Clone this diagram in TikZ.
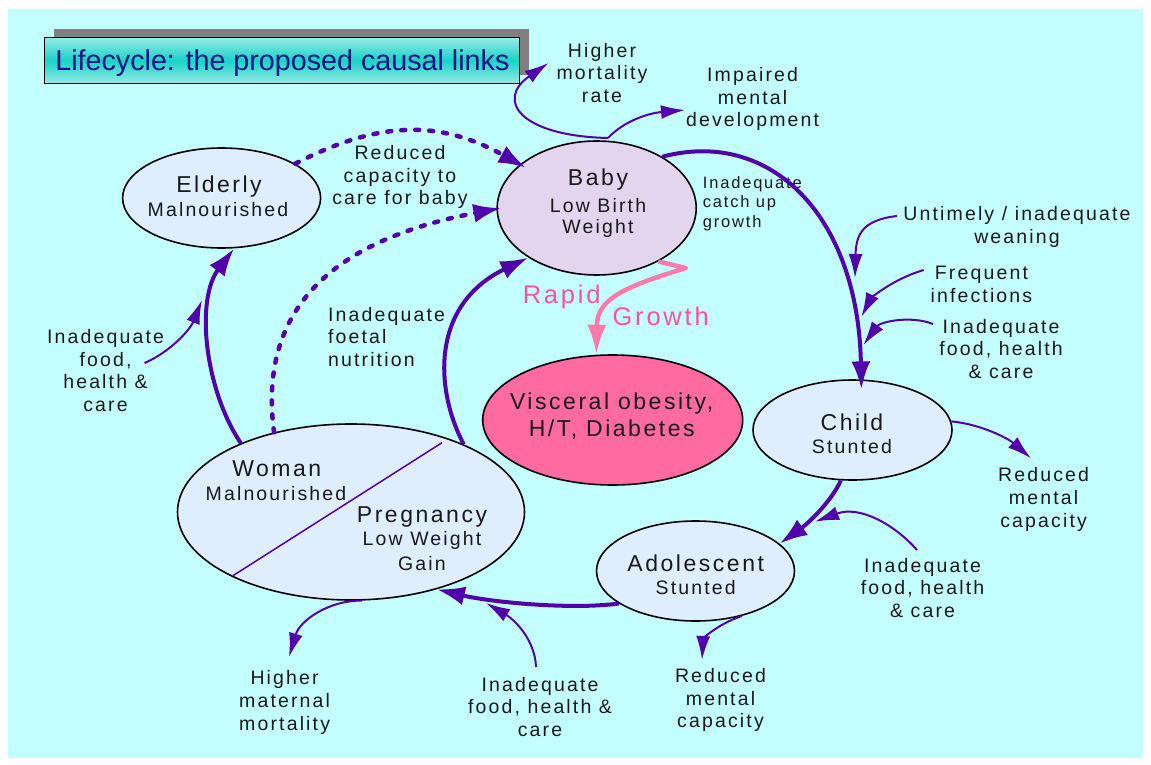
\documentclass[tikz,border=0pt]{standalone}
\usepackage{fontspec}
\setmainfont{Liberation Sans}[LetterSpace=11]
\newfontfamily\titlefont{Liberation Sans}
\usetikzlibrary{arrows.meta,shapes.geometric}
\definecolor{bgcyan}{RGB}{196,255,255}
\definecolor{arrowpurple}{RGB}{82,0,170}
\definecolor{ellfill}{RGB}{222,238,255}
\definecolor{babyfill}{RGB}{227,213,238}
\definecolor{viscfill}{RGB}{255,106,160}
\definecolor{pinkline}{RGB}{255,122,172}
\definecolor{pinktext}{RGB}{255,80,160}
\definecolor{txt}{RGB}{25,25,25}
\definecolor{titleblue}{RGB}{20,20,130}
\definecolor{titleteal}{RGB}{24,210,200}
\definecolor{titlelight}{RGB}{150,235,230}
\definecolor{shadowgray}{RGB}{128,128,128}
\begin{document}
\begin{tikzpicture}[x=1pt,y=-1pt,
  ell/.style={ellipse, draw=black, line width=1.6pt, fill=ellfill, inner sep=0pt},
  big/.style={font=\fontsize{23}{27}\selectfont, text=txt, inner sep=0pt},
  sub/.style={font=\fontsize{19.5}{23}\selectfont, text=txt, inner sep=0pt},
  side/.style={font=\fontsize{19.5}{22.7}\selectfont, text=txt, align=center, inner sep=0pt},
  small/.style={font=\fontsize{16.5}{19.5}\selectfont, text=txt, align=left, inner sep=0pt},
  pinklbl/.style={font=\fontsize{25.5}{28}\selectfont, text=pinktext, inner sep=0pt},
  thickarrow/.style={draw=arrowpurple, line width=4pt, -{Latex[length=28pt,width=19pt]}},
  thinarrow/.style={draw=arrowpurple, line width=2pt, -{Latex[length=24pt,width=14pt]}},
  dotarrow/.style={draw=arrowpurple, line width=4.5pt, line cap=round, dash pattern=on 4pt off 10pt, -{Latex[length=28pt,width=19pt]}},
]
\useasboundingbox (0,0) rectangle (1151,765);
\fill[white] (0,0) rectangle (1151,765);
\fill[bgcyan] (8,9) rectangle (1143,758);

% title
\fill[shadowgray] (54,29) rectangle (529,75);
\node[draw=black, line width=1pt, top color=titlelight, bottom color=titlelight, middle color=titleteal,
  minimum width=475pt, minimum height=46pt, anchor=north west, inner sep=0pt, text depth=0pt,
  font=\titlefont\fontsize{28.7}{30}\selectfont, text=titleblue] (title) at (44.4,37) {Lifecycle: the proposed causal links};

% ellipses
\node[ell, minimum width=198pt, minimum height=100pt] (elderly) at (221.6,198) {};
\node[ell, fill=babyfill, minimum width=199pt, minimum height=134pt] (baby) at (596.7,208) {};
\node[ell, fill=viscfill, minimum width=260pt, minimum height=130pt] (visc) at (612.7,420) {};
\node[ell, minimum width=199pt, minimum height=100pt] (child) at (852.5,430) {};
\node[ell, minimum width=198pt, minimum height=100pt] (adol) at (695.5,571) {};
\node[ell, minimum width=347pt, minimum height=176pt] (woman) at (351,512) {};
\draw[arrowpurple, line width=1.5pt] (442,442.7) -- (232.9,575.7);

% ellipse texts
\node[big] (elderlyA) at (219,187) {Elderly};
\node[sub] (elderlyB) at (218,210) {Malnourished};
\node[big] (babyA) at (598,180) {Baby};
\node[sub] (babyB) at (598,206) {Low Birth};
\node[sub] (babyC) at (598,228) {Weight};
\node[big] (childA) at (852,422.7) {Child};
\node[sub] (childB) at (852,447) {Stunted};
\node[big] (adolA) at (695.7,563.3) {Adolescent};
\node[sub] (adolB) at (695.7,588) {Stunted};
\node[big] (womanA) at (276.8,468.3) {Woman};
\node[sub] (womanB) at (276,493.3) {Malnourished};
\node[big] (pregA) at (422,516.7) {Pregnancy};
\node[sub] (pregB) at (422,540.7) {Low Weight};
\node[sub] (pregC) at (422,563.3) {Gain};
\node[big, align=center, font=\fontsize{23}{27}\selectfont] (viscA) at (611.7,416.5) {Visceral obesity,\\H/T, Diabetes};

% side labels
\node[side] (hmr) at (602,73) {Higher\\mortality\\rate};
\node[side] (imd) at (752.6,99) {Impaired\\mental\\development};
\node[side] (rcc) at (400,177) {Reduced\\capacity to\\care for baby};
\node[small, anchor=west] (icg) at (702.7,203.5) {Inadequate\\catch up\\growth};
\node[side] (utw) at (1017,227) {Untimely / inadequate\\weaning};
\node[side] (fi) at (981.4,284.5) {Frequent\\infections};
\node[side] (cfood) at (1001,349) {Inadequate\\food, health\\\& care};
\node[side] (crm) at (1043.6,499.5) {Reduced\\mental\\capacity};
\node[side] (afood) at (922.6,588) {Inadequate\\food, health\\\& care};
\node[side] (arm) at (720.5,700) {Reduced\\mental\\capacity};
\node[side] (bfood) at (540,707) {Inadequate\\food, health \&\\care};
\node[side] (hmm) at (284.6,702.5) {Higher\\maternal\\mortality};
\node[side] (lfood) at (105.5,370.5) {Inadequate\\food,\\health \&\\care};
\node[side, align=left, anchor=west] (ifn) at (327.9,337) {Inadequate\\foetal\\nutrition};
\node[pinklbl] (rapid) at (561.7,296.7) {Rapid};
\node[pinklbl] (growth) at (660.7,316.7) {Growth};

% free ends
\coordinate (utwS) at (897,216); \coordinate (utwE) at (855,278);
\coordinate (fiS) at (923.7,270); \coordinate (fiE) at (861.5,316.7);
\coordinate (cfS) at (933,324); \coordinate (cfE) at (863.4,345);
\coordinate (crmE) at (1031,458.3);
\coordinate (afS) at (917,550); \coordinate (afE) at (815,521.7);
\coordinate (armE) at (702,660);
\coordinate (bfS) at (536,667); \coordinate (bfE) at (486,603);
\coordinate (hmmE) at (289,657);
\coordinate (lfS) at (144.6,363); \coordinate (lfE) at (202,300);
\coordinate (hmrE) at (548.5,63); \coordinate (imdE) at (685,110);
\coordinate (babyTop) at (608,138);
\coordinate (pinkTurn) at (686,268);

% dotted arrows
\draw[dotarrow] (elderly.25) .. controls (380,120) and (440,120) .. ([shift={(6pt,-4pt)}]baby.150);
\draw[dotarrow] (woman.134) .. controls (255,290) and (360,235) .. ([xshift=5pt]baby.180);

% thick arrows
\draw[thickarrow] (woman.148) .. controls (205,390) and (195,300) .. (elderly.-76);
\draw[thickarrow] (woman.31) .. controls (435,390) and (430,305) .. (baby.216);
\draw[thickarrow] (baby.38) .. controls (770,128) and (858,215) .. ([yshift=-10pt]child.80);
\draw[thickarrow] (child.257) .. controls (832,500) and (810,522) .. (adol.18);
\draw[thickarrow] (adol.203) .. controls (570,610) and (490,602) .. (woman.-42);

% thin arrows
\draw[thinarrow] (babyTop) .. controls (520,136) and (495,100) .. (hmrE);
\draw[thinarrow] (babyTop) .. controls (625,120) and (650,113) .. (imdE);
\draw[thinarrow] (utwS) .. controls (862,220) and (856,235) .. (utwE);
\draw[thinarrow] (fiS) .. controls (890,280) and (870,300) .. (fiE);
\draw[thinarrow] (cfS) .. controls (910,315) and (880,322) .. (cfE);
\draw[thinarrow] (child.5) .. controls (985,425) and (1010,440) .. (crmE);
\draw[thinarrow] (afS) .. controls (895,525) and (860,505) .. (afE);
\draw[thinarrow] (adol.-44) .. controls (715,625) and (703,640) .. (armE);
\draw[thinarrow] (bfS) .. controls (535,640) and (515,620) .. (bfE);
\draw[thinarrow] (woman.-83) .. controls (330,600) and (300,620) .. (hmmE);
\draw[thinarrow] (lfS) .. controls (170,352) and (190,330) .. (lfE);

% pink arrow
\draw[draw=pinkline, line width=4.5pt, line join=round, -{Latex[length=30pt,width=19pt]}]
  (baby.319) -- (pinkTurn) .. controls (620,288) and (597,300) .. (visc.104);
\end{tikzpicture}
\end{document}
